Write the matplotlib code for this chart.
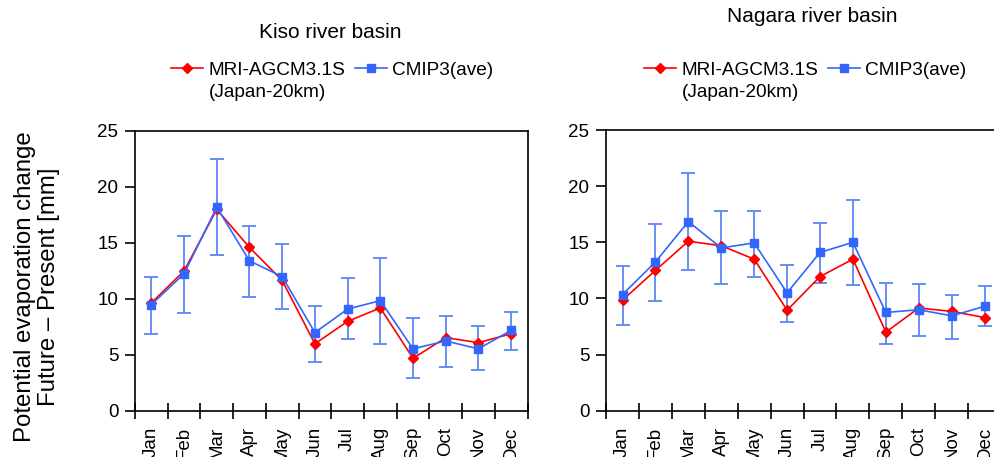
import numpy as np
import matplotlib.pyplot as plt

plt.rcParams['font.family'] = ['Liberation Sans', 'DejaVu Sans']

months = ['Jan', 'Feb', 'Mar', 'Apr', 'May', 'Jun',
          'Jul', 'Aug', 'Sep', 'Oct', 'Nov', 'Dec']

# Kiso river basin
kiso_mri = [9.65, 12.5, 18.0, 14.6, 11.65, 6.0, 8.0, 9.2, 4.7, 6.55, 6.1, 6.9]
kiso_cmip = [9.5, 12.25, 18.2, 13.4, 12.0, 7.0, 9.1, 9.85, 5.55, 6.25, 5.55, 7.2]
kiso_hi = [12.0, 15.6, 22.5, 16.55, 14.9, 9.4, 11.85, 13.7, 8.3, 8.45, 7.6, 8.85]
kiso_lo = [6.85, 8.75, 13.9, 10.15, 9.1, 4.4, 6.4, 6.0, 2.9, 3.95, 3.65, 5.45]

# Nagara river basin
nagara_mri = [9.85, 12.5, 15.1, 14.7, 13.5, 8.95, 11.95, 13.5, 7.0, 9.15, 8.85, 8.3]
nagara_cmip = [10.35, 13.25, 16.85, 14.5, 14.95, 10.5, 14.1, 15.0, 8.75, 9.0, 8.45, 9.3]
nagara_hi = [12.9, 16.6, 21.2, 17.8, 17.8, 13.0, 16.7, 18.8, 11.4, 11.3, 10.35, 11.1]
nagara_lo = [7.65, 9.8, 12.55, 11.3, 11.9, 7.9, 11.4, 11.2, 5.95, 6.7, 6.4, 7.55]

RED = '#FF0000'
BLUE = '#3366FF'
EBLUE = '#5A86F5'
W, H = 994, 457

fig = plt.figure(figsize=(W / 100, H / 100), dpi=100)
ax1 = fig.add_axes([0.1358, 0.1007, 0.3949, 0.6127])
ax2 = fig.add_axes([0.6097, 0.1013, 0.3974, 0.6140])


def panel(ax, mri, cmip, hi, lo, legx):
    x = np.arange(len(months))
    cmip = np.array(cmip)
    err = [cmip - np.array(lo), np.array(hi) - cmip]
    ax.errorbar(x, cmip, yerr=err, fmt='none', ecolor=EBLUE, elinewidth=1.3,
                capsize=5, capthick=1.3, zorder=2)
    ax.plot(x, mri, color=RED, marker='D', markersize=5, lw=1.2,
            label='MRI-AGCM3.1S', zorder=3)
    ax.plot(x, cmip, color=BLUE, marker='s', markersize=5.5, lw=1.2,
            label='CMIP3(ave)', zorder=4)
    ax.set_xlim(-0.5, 11.5)
    ax.set_ylim(0, 25)
    ax.set_yticks(np.arange(0, 26, 5))
    ax.set_xticks(np.arange(-0.5, 12, 1))
    ax.set_xticklabels([])
    ax.set_xticks(x, minor=True)
    ax.set_xticklabels(months, minor=True, rotation=90, fontsize=13.5)
    ax.tick_params(axis='x', which='major', direction='inout', length=11, width=1.2)
    ax.tick_params(axis='x', which='minor', length=0, pad=11.5)
    ax.tick_params(axis='y', direction='out', length=7, width=1.2,
                   labelsize=13.5, pad=5)
    for s in ax.spines.values():
        s.set_linewidth(1.2)
    leg = ax.legend(loc='center left', bbox_to_anchor=(legx / W, 1 - 70 / H),
                    bbox_transform=fig.transFigure, ncol=2, frameon=False,
                    fontsize=13.7, handlelength=1.7, handletextpad=0.27,
                    columnspacing=0.5, borderaxespad=0, borderpad=0)
    return leg


leg1 = panel(ax1, kiso_mri, kiso_cmip, kiso_hi, kiso_lo, 171)
leg2 = panel(ax2, nagara_mri, nagara_cmip, nagara_hi, nagara_lo, 644)

# second line of the MRI legend entry, under its text
fig.canvas.draw()
for leg in (leg1, leg2):
    x0 = leg.get_texts()[0].get_window_extent().x0
    fig.text(x0 / W, 1 - 92 / H, '(Japan-20km)', ha='left', va='center',
             fontsize=13.7)

fig.text(330 / W, 1 - 33 / H, 'Kiso river basin', ha='center', va='center', fontsize=15)
fig.text(812 / W, 1 - 17 / H, 'Nagara river basin', ha='center', va='center', fontsize=15)
fig.text(37 / W, 1 - 287 / H,
         'Potential evaporation change\nFuture \u2013 Present [mm]',
         rotation=90, ha='center', va='center', multialignment='center',
         fontsize=17.3, linespacing=1.1)

fig.savefig('out.png', dpi=100)
